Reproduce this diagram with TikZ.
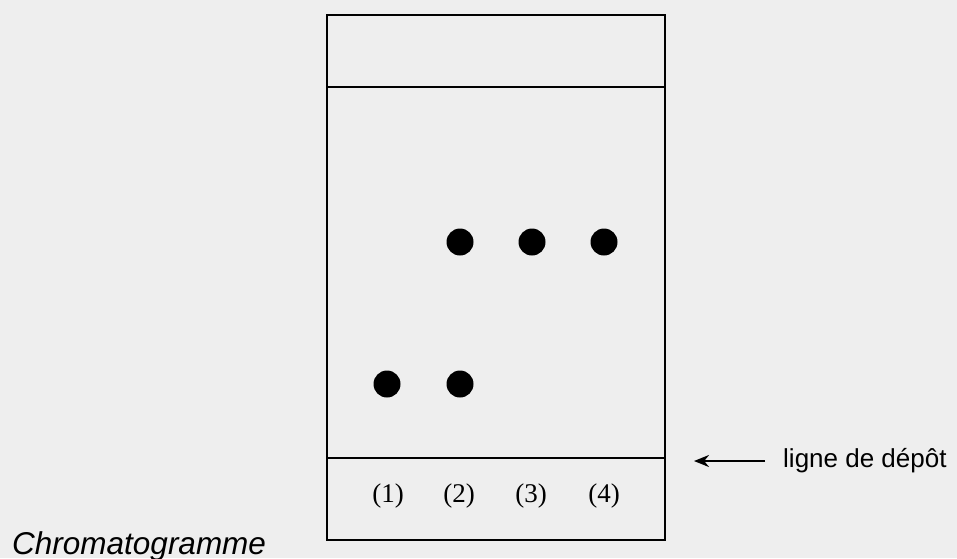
\documentclass[tikz,border=0pt]{standalone}
\usepackage{fontspec}
\setmainfont{Liberation Serif}
\newfontfamily\arialfont{Liberation Sans}
\usetikzlibrary{arrows.meta}
\definecolor{bgc}{RGB}{238,238,238}
\tikzset{
  plate/.style={draw=black, line width=2.4pt},
  spot/.style={circle, fill=black, minimum size=27pt, inner sep=0pt},
  lab/.style={font=\fontsize{27}{29}\selectfont, inner sep=0pt},
  sans/.style={font=\arialfont\fontsize{26}{28}\selectfont, inner sep=0pt, anchor=base west},
}
\begin{document}
\begin{tikzpicture}[x=1pt,y=-1pt]
\fill[bgc] (0,0) rectangle (957,558);
\useasboundingbox (0,0) rectangle (957,558);
\coordinate (tl) at (327,15);
\coordinate (br) at (665,540);
\draw[plate] (tl) rectangle (br);
\coordinate (fl) at (327,87);
\coordinate (fr) at (665,87);
\draw[plate] (fl) -- (fr);
\coordinate (dl) at (327,458);
\coordinate (dr) at (665,458);
\draw[plate] (dl) -- (dr);
\node[spot] (s2a) at (460,242) {};
\node[spot] (s3a) at (532,242) {};
\node[spot] (s4a) at (604,242) {};
\node[spot] (s1b) at (387,384) {};
\node[spot] (s2b) at (460,384) {};
\node[lab] (l1) at (388,496) {(1)};
\node[lab] (l2) at (459,496) {(2)};
\node[lab] (l3) at (531,496) {(3)};
\node[lab] (l4) at (604,496) {(4)};
\node[sans] (ld) at (783,467) {ligne de dépôt};
\coordinate (as) at (765,461);
\coordinate (ae) at (694,461);
\draw[line width=2.4pt, -{Stealth[length=15pt,width=12pt]}] (as) -- (ae);
\node[font=\arialfont\itshape\fontsize{31.5}{33}\selectfont, inner sep=0pt, anchor=base west] (ch) at (12,554) {Chromatogramme};
\end{tikzpicture}
\end{document}
